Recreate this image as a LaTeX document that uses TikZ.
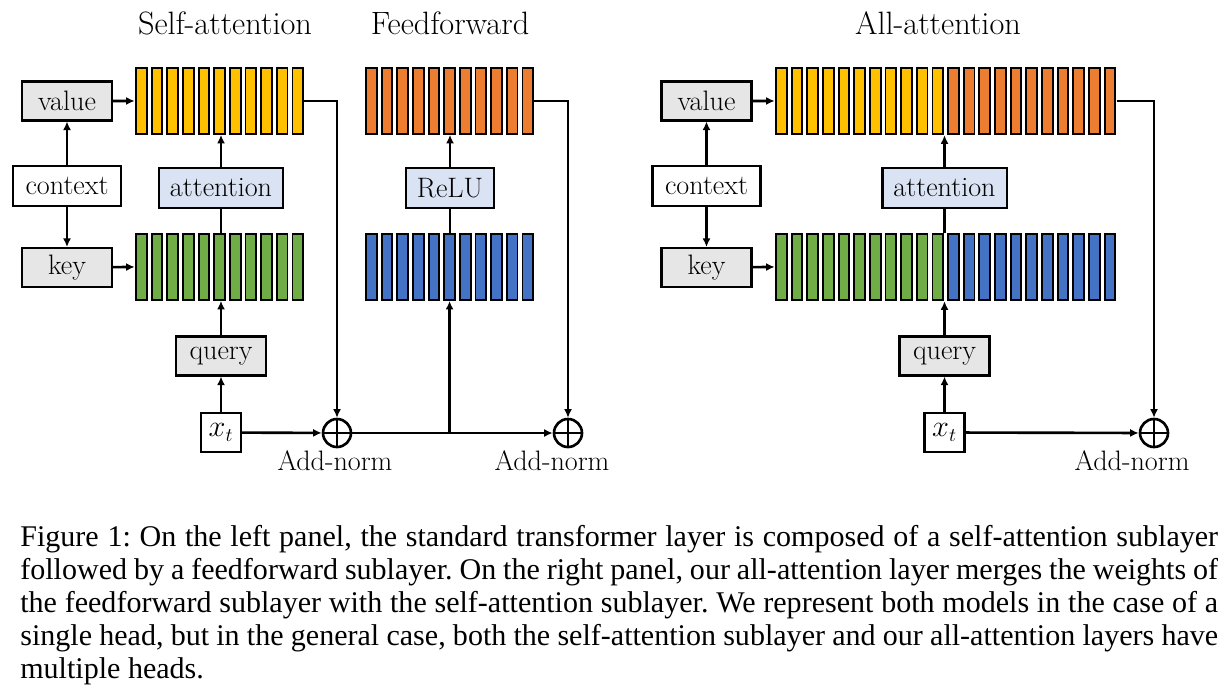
\documentclass[tikz,border=0pt]{standalone}
\usepackage{fontspec}
\newfontfamily\capfont{Liberation Serif}
\usetikzlibrary{fit,arrows.meta}
\definecolor{yel}{HTML}{FFC000}
\definecolor{grn}{HTML}{70AD47}
\definecolor{org}{HTML}{ED7D31}
\definecolor{blu}{HTML}{4472C4}
\definecolor{boxgray}{HTML}{E7E6E6}
\definecolor{boxblue}{HTML}{DAE3F3}

\begin{document}
\begin{tikzpicture}[x=0.02cm, y=-0.02cm,
    cell/.style={draw, line width=1.1pt, inner sep=0pt, anchor=north west,
      minimum width=0.214cm, minimum height=1.32cm},
    proj/.style={draw, fill=boxgray, line width=1.2pt, minimum width=1.8cm,
      minimum height=0.78cm, font=\fontsize{16}{19}\selectfont},
    ctx/.style={proj, fill=white, minimum width=2.16cm, minimum height=0.8cm},
    op/.style={proj, fill=boxblue, minimum width=0pt, inner xsep=0.22cm, minimum height=0.8cm},
    inp/.style={proj, fill=white, minimum width=0.8cm},
    addn/.style={circle, draw, line width=1.5pt, minimum size=0.56cm, inner sep=0pt,
      path picture={\draw[line width=1.5pt] (path picture bounding box.north) -- (path picture bounding box.south)
        (path picture bounding box.west) -- (path picture bounding box.east);}},
    lab/.style={font=\fontsize{16}{19}\selectfont, anchor=base},
    heading/.style={font=\fontsize{18.4}{21}\selectfont},
    conn/.style={line width=1.5pt},
    arr/.style={conn, -{Latex[length=1.7mm,width=1.6mm]}}]

  \useasboundingbox (0,0) rectangle (1225,694);

  \node[heading] (tSA) at (225,23.5) {Self-attention};
  \node[heading] (tFF) at (450,23.5) {Feedforward};
  \node[heading] (tAA) at (938,23.5) {All-attention};

  \foreach \i in {1,...,11}{
    \node[cell, fill=yel] (yL\i) at ({135+15.65*(\i-1)},67) {};
    \node[cell, fill=grn] (gL\i) at ({135+15.65*(\i-1)},233) {};
    \node[cell, fill=org] (oL\i) at ({365+15.65*(\i-1)},67) {};
    \node[cell, fill=blu] (bL\i) at ({365+15.65*(\i-1)},233) {};
    \node[cell, fill=yel] (yR\i) at ({775+15.65*(\i-1)},67) {};
    \node[cell, fill=grn] (gR\i) at ({775+15.65*(\i-1)},233) {};
  }
  \foreach \i in {12,...,22}{
    \node[cell, fill=org] (oR\i) at ({775+15.65*(\i-1)},67) {};
    \node[cell, fill=blu] (bR\i) at ({775+15.65*(\i-1)},233) {};
  }

  \node[fit=(yL1)(yL11), inner sep=0pt] (yelL) {};
  \node[fit=(gL1)(gL11), inner sep=0pt] (grnL) {};
  \node[fit=(oL1)(oL11), inner sep=0pt] (orgL) {};
  \node[fit=(yR1)(oR22), inner sep=0pt] (topR) {};
  \node[fit=(gR1)(bR22), inner sep=0pt] (botR) {};

  % left panel
  \node[proj] (valL) at (67,101) {value};
  \node[ctx]  (ctxL) at (67,186) {context};
  \node[proj] (keyL) at (67,267.5) {key};
  \node[op]   (attL) at (221,188) {attention};
  \node[proj] (qL)   at (221,356) {query};
  \node[inp]  (xL)   at (221,432.5) {$x_t$};
  \node[op]   (relu) at (450,188) {ReLU};
  \node[addn] (add1) at (337,433) {};
  \node[addn] (add2) at (568,433) {};
  \node[lab]  (an1)  at (335,470) {Add-norm};
  \node[lab]  (an2)  at (552,470) {Add-norm};

  \foreach \from/\to in {ctxL/valL, ctxL/keyL, xL/qL, xL/add1, add1/add2}{
    \draw[arr] (\from) -- (\to);
  }
  \draw[arr] (valL) -- (yelL.west);
  \draw[arr] (keyL) -- (grnL.west);
  \draw[arr] (qL.north) -- (qL.north |- gL6.south);
  \draw[conn] (attL.south) -- (attL.south |- gL6.north);
  \draw[arr] (attL.north) -- (attL.north |- yL6.south);
  \draw[arr] (yelL.east) -| (add1.north);
  \draw[arr] (add1 -| bL6) -- (bL6.south);
  \draw[conn] (relu.south) -- (relu.south |- bL6.north);
  \draw[arr] (relu.north) -- (relu.north |- oL6.south);
  \draw[arr] (orgL.east) -| (add2.north);

  % right panel
  \node[proj] (valR) at (706.5,101) {value};
  \node[ctx]  (ctxR) at (706.5,186) {context};
  \node[proj] (keyR) at (706.5,267.5) {key};
  \node[op]   (attR) at (944.5,188) {attention};
  \node[proj] (qR)   at (944.5,356) {query};
  \node[inp]  (xR)   at (944.5,432.5) {$x_t$};
  \node[addn] (add3) at (1154,433) {};
  \node[lab]  (an3)  at (1132,470) {Add-norm};

  \foreach \from/\to in {ctxR/valR, ctxR/keyR, xR/qR, xR/add3}{
    \draw[arr] (\from) -- (\to);
  }
  \draw[arr] (valR) -- (topR.west);
  \draw[arr] (keyR) -- (botR.west);
  \draw[arr] (qR.north) -- (qR.north |- botR.south);
  \draw[conn] (attR.south) -- (attR.south |- botR.north);
  \draw[arr] (attR.north) -- (attR.north |- topR.south);
  \draw[arr] (topR.east) -| (add3.north);

  \node[anchor=north west, inner sep=0pt, text width=23.96cm, align=justify,
    font=\capfont\fontsize{17.1}{18.8}\selectfont\frenchspacing] (caption) at (20,525)
    {Figure 1: On the left panel, the standard transformer layer is composed of a self-attention sublayer\linebreak
     followed by a feedforward sublayer. On the right panel, our all-attention layer merges the weights of\linebreak
     the feedforward sublayer with the self-attention sublayer. We represent both models in the case of a\linebreak
     single head, but in the general case, both the self-attention sublayer and our all-attention layers have\linebreak
     multiple heads.};
\end{tikzpicture}
\end{document}
